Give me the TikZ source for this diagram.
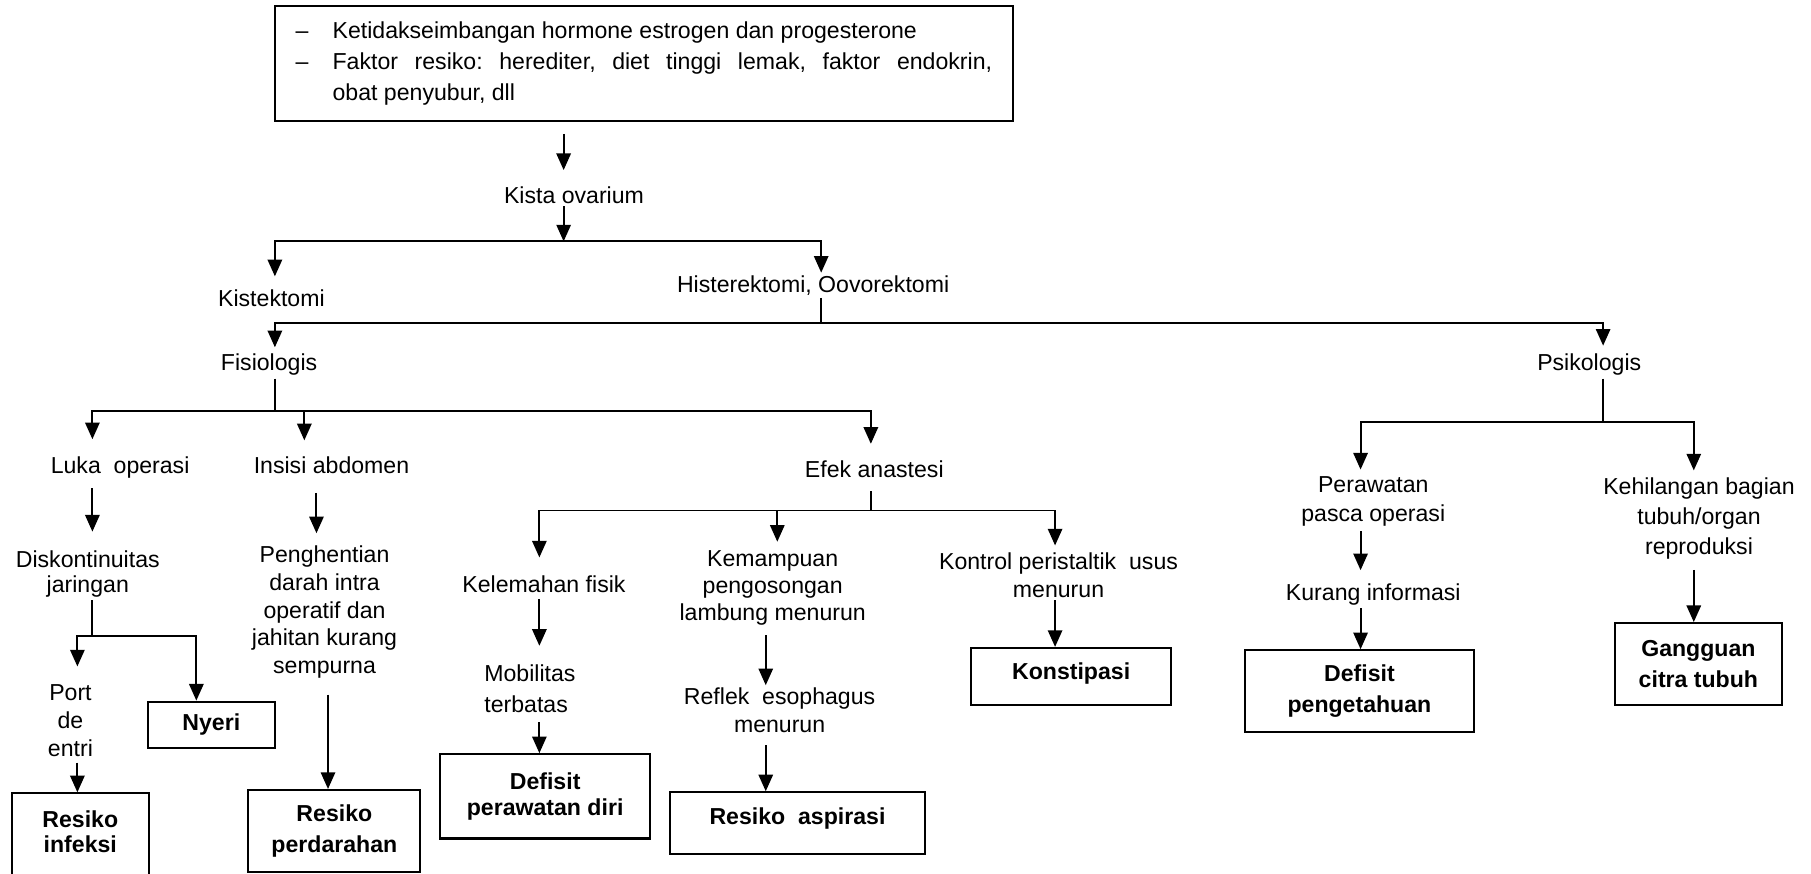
\documentclass[tikz,border=0pt]{standalone}
\usepackage{fontspec}
\setmainfont{Liberation Sans}
\usepackage{array}
\usetikzlibrary{arrows.meta}

\tikzset{
  txt/.style={inner sep=1pt, align=center, font=\fontsize{10}{12}\selectfont},
  probbox/.style={draw, line width=0.9pt, inner sep=2pt, align=center,
    font=\fontsize{10}{13.5}\selectfont\bfseries},
  ln/.style={line width=0.85pt},
  arr/.style={ln, -{Triangle[width=6.2pt,length=7.2pt]}}
}

\begin{document}
\frenchspacing
\begin{tikzpicture}[x=0.5pt,y=-0.5pt]
\useasboundingbox (0,0) rectangle (1568,756);

% cause
\node[draw, line width=0.9pt, inner xsep=9pt, inner ysep=0pt, minimum height=49.75pt,
  font=\fontsize{10}{13.5}\selectfont] (cause) at (557.5,54.75) {%
\begin{tabular}{@{}p{16pt}@{}p{285.5pt}@{}}
\textendash & Ketidakseimbangan hormone estrogen dan progesterone\\
\textendash & Faktor resiko: herediter, diet tinggi lemak, faktor endokrin,\linebreak obat penyubur, dll
\end{tabular}};

\node[txt] (kista) at (497,169) {Kista ovarium};
\node[txt] (kist) at (235,258) {Kistektomi};
\node[txt] (hist) at (704,247) {Histerektomi, Oovorektomi};
\node[txt] (fisio) at (233,316) {Fisiologis};
\node[txt] (psiko) at (1376,316) {Psikologis};

% fisiologis side
\node[txt] (luka) at (104,405) {Luka~ operasi};
\node[txt] (insisi) at (287,403) {Insisi abdomen};
\node[txt] (efek) at (757,406) {Efek anastesi};
\node[txt] (disk) at (76,497) {Diskontinuitas\\[-1pt]jaringan};
\node[txt] (port) at (61,624) {Port\\de\\entri};
\node[txt] (peng) at (281,530) {Penghentian\\darah intra\\operatif dan\\jahitan kurang\\sempurna};
\node[txt] (kelem) at (471,506) {Kelemahan fisik};
\node[txt, align=left, anchor=west] (mobil) at (417,596) {Mobilitas\\[1.5pt]terbatas};
\node[txt] (kemam) at (669,509) {Kemampuan\\[-0.5pt]pengosongan\\[-0.5pt]lambung menurun};
\node[txt] (reflek) at (675,615) {Reflek~ esophagus\\menurun};
\node[txt] (kontrol) at (916.5,498) {Kontrol peristaltik~ usus\\menurun};

% psikologis side
\node[txt] (perawat) at (1189,434) {Perawatan\\[0.5pt]pasca operasi};
\node[txt] (kurang) at (1189,515) {Kurang informasi};
\node[txt] (kehil) at (1471,449) {Kehilangan bagian\\[1pt]tubuh/organ\\[1pt]reproduksi};

% diagnoses
\node[probbox, minimum width=54.75pt, minimum height=20pt] (nyeri) at (183,627.5) {Nyeri};
\node[probbox, anchor=north, inner ysep=7.5pt, minimum width=59.5pt] (infeksi) at (69.5,686) {Resiko\\[-2.5pt]infeksi\\[16pt]\mbox{}};
\node[probbox, minimum width=74.5pt, minimum height=35.3pt] (perdar) at (289.5,719.3) {Resiko\\perdarahan};
\node[probbox, minimum width=91pt, minimum height=36.5pt] (defA) at (472,689.5) {Defisit\\[-2.5pt]perawatan diri};
\node[probbox, minimum width=110.5pt, minimum height=26.5pt, text height=7.3pt, text depth=6pt] (aspir) at (690.5,712.5) {Resiko~ aspirasi};
\node[probbox, minimum width=86.7pt, minimum height=24.8pt, text height=7.3pt, text depth=5pt] (konst) at (927.4,585.8) {Konstipasi};
\node[probbox, minimum width=99pt, minimum height=35.5pt] (defB) at (1177,598.5) {Defisit\\pengetahuan};
\node[probbox, minimum width=72.5pt, minimum height=35.5pt] (gang) at (1470.5,575) {Gangguan\\citra tubuh};

% junctions
\coordinate (j1) at (488,209);
\coordinate (j2) at (711,280);
\coordinate (j3) at (238,356);
\coordinate (j4) at (80,551);
\coordinate (j5) at (754,442);
\coordinate (j6) at (1388,365);

% top
\draw[arr, shorten <=5.25pt, shorten >=6pt] (cause.south -| j1) -- (kista.north -| j1);
\draw[arr] (kista.south -| j1) -- (j1);
\draw[arr, shorten >=4.5pt] (j1) -| ([xshift=1.5pt]kist.north);
\draw[arr] (j1) -| ([xshift=3.5pt]hist.north);
\draw[ln] ([xshift=3.5pt]hist.south) -- (j2);
\draw[arr, shorten >=1.8pt] (j2) -| ([xshift=2.5pt]fisio.north);
\draw[arr, shorten >=2.5pt] (j2) -| ([xshift=6pt]psiko.north);

% fisiologis
\draw[ln] ([xshift=2.5pt]fisio.south) -- (j3);
\draw[arr, shorten >=6.5pt] (j3) -| ([xshift=-12pt]luka.north);
\draw[arr, shorten >=6pt] (j3) -| ([xshift=-11.75pt]insisi.north);
\draw[arr, shorten >=6pt] (j3) -| ([xshift=-1.5pt]efek.north);

\draw[arr, shorten <=3pt, shorten >=7pt] ([xshift=-12pt]luka.south) -- ([xshift=-12pt]luka.south |- disk.north);
\draw[ln] ([xshift=2pt]disk.south) -- (j4);
\draw[arr, shorten >=6.8pt] (j4) -| ([xshift=3pt]port.north);
\draw[arr] (j4) -| ([xshift=-6.5pt]nyeri.north);
\draw[arr, shorten <=1.5pt] ([xshift=3pt]port.south) -- ([xshift=3pt]port.south |- infeksi.north);

\draw[arr, shorten <=7pt, shorten >=4.3pt] ([xshift=-6.5pt]insisi.south) -- ([xshift=-6.5pt]insisi.south |- peng.north);
\draw[arr, shorten <=5.8pt] ([xshift=1.5pt]peng.south) -- ([xshift=1.5pt]peng.south |- perdar.north);

\draw[ln, shorten <=4.7pt] ([xshift=-1.5pt]efek.south) -- (j5);
\draw[arr, shorten >=6.8pt] (j5) -| ([xshift=-2pt]kelem.north);
\draw[arr, shorten >=2.8pt] (j5) -| ([xshift=2pt]kemam.north);
\draw[arr, shorten >=2pt] (j5) -| ([xshift=-1.5pt]kontrol.north);
\draw[arr, shorten <=1.4pt, shorten >=6.8pt] ([xshift=-2pt]kelem.south) -- ([xshift=-2pt]kelem.south |- mobil.north);
\draw[arr, shorten <=3pt] ([xshift=-2pt]kelem.south |- mobil.south) -- ([xshift=-2pt]kelem.south |- defA.north);
\draw[arr, shorten <=3.3pt] ([xshift=-3pt]kemam.south) -- ([xshift=-3pt]kemam.south |- reflek.north);
\draw[arr, shorten <=4.3pt] ([xshift=-6pt]reflek.south) -- ([xshift=-6pt]reflek.south |- aspir.north);
\draw[arr] ([xshift=-1.5pt]kontrol.south) -- ([xshift=-1.5pt]kontrol.south |- konst.north);

% psikologis
\draw[ln] ([xshift=6pt]psiko.south) -- (j6);
\draw[arr, shorten >=1.8pt] (j6) -| ([xshift=-5.5pt]perawat.north);
\draw[arr, shorten >=2pt] (j6) -| ([xshift=-2.25pt]kehil.north);
\draw[arr, shorten <=1.1pt, shorten >=4.8pt] ([xshift=-5.5pt]perawat.south) -- ([xshift=-5.5pt]perawat.south |- kurang.north);
\draw[arr] ([xshift=-5.5pt]kurang.south) -- ([xshift=-5.5pt]kurang.south |- defB.north);
\draw[arr, shorten <=3.3pt] ([xshift=-2.25pt]kehil.south) -- ([xshift=-2.25pt]kehil.south |- gang.north);

\end{tikzpicture}
\end{document}
